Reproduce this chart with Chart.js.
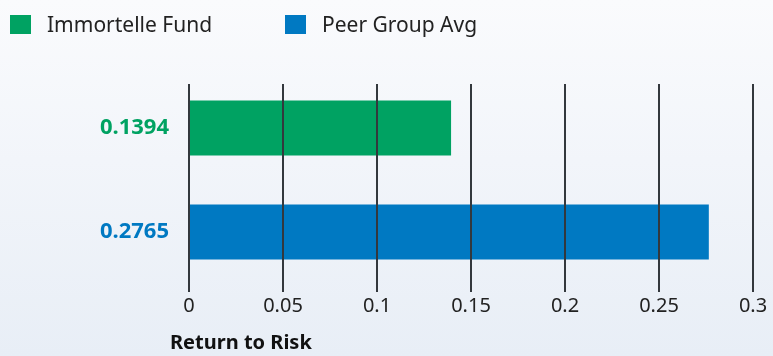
<!DOCTYPE html>
<html>
<head>
<meta charset="utf-8">
<script src="https://cdn.jsdelivr.net/npm/chart.js@4/dist/chart.umd.min.js"></script>
<style>
  html, body { margin: 0; padding: 0; }
  body {
    width: 773px; height: 356px; overflow: hidden;
    background: linear-gradient(to bottom, #fafbfd 0%, #f2f5fa 45%, #e8eef6 100%);
    font-family: "Noto Sans", "Open Sans", sans-serif;
  }
  #wrap { position: relative; width: 773px; height: 356px; }
  #chart { position: absolute; left: 0; top: 0; }
  .legend-item { position: absolute; top: 9px; display: flex; align-items: center; }
  .legend-box { width: 21px; height: 19px; margin-right: 16px; }
  .legend-text { font-size: 21px; color: #222; line-height: 30px; }
  #axisTitle {
    position: absolute; left: 170px; top: 329px;
    font-size: 20px; font-weight: bold; color: #111; line-height: 26px;
  }
</style>
</head>
<body>
<div id="wrap">
  <canvas id="chart" width="773" height="356"></canvas>
  <div id="legend"></div>
  <div id="axisTitle"></div>
</div>
<script>
// Return-to-risk comparison
const categories = ['Immortelle Fund', 'Peer Group Avg'];
const returnToRisk = [0.1394, 0.2765];
const barColors = ['#00a262', '#0079c2'];
const xTickValues = [0, 0.05, 0.1, 0.15, 0.2, 0.25, 0.3];
const xAxisTitle = 'Return to Risk';

// legend built from the categories
const legendLeft = [10, 285];
const legendEl = document.getElementById('legend');
categories.forEach((name, i) => {
  const item = document.createElement('div');
  item.className = 'legend-item';
  item.style.left = legendLeft[i] + 'px';
  const box = document.createElement('div');
  box.className = 'legend-box';
  box.style.background = barColors[i];
  const txt = document.createElement('span');
  txt.className = 'legend-text';
  txt.textContent = name;
  item.appendChild(box);
  item.appendChild(txt);
  legendEl.appendChild(item);
});
document.getElementById('axisTitle').textContent = xAxisTitle;

// vertical grid lines drawn over the bars, shifted slightly downward
const gridOverlay = {
  id: 'gridOverlay',
  afterDatasetsDraw(chart) {
    const { ctx, chartArea, scales } = chart;
    const x = scales.x;
    ctx.save();
    ctx.strokeStyle = '#33383d';
    ctx.lineWidth = 2;
    xTickValues.forEach(v => {
      const px = Math.round(x.getPixelForValue(v));
      ctx.beginPath();
      ctx.moveTo(px, chartArea.top + 8);
      ctx.lineTo(px, chartArea.bottom + 8);
      ctx.stroke();
    });
    ctx.restore();
  }
};

new Chart(document.getElementById('chart'), {
  type: 'bar',
  data: {
    labels: categories,
    datasets: [{
      data: returnToRisk,
      backgroundColor: barColors,
      borderWidth: 0,
      barPercentage: 0.53,
      categoryPercentage: 1
    }]
  },
  options: {
    indexAxis: 'y',
    responsive: false,
    animation: false,
    events: [],
    layout: { padding: { top: 76, right: 20, bottom: 38, left: 0 } },
    plugins: { legend: { display: false }, tooltip: { enabled: false } },
    scales: {
      x: {
        type: 'linear',
        min: 0,
        max: 0.3,
        afterBuildTicks(scale) { scale.ticks = xTickValues.map(v => ({ value: v })); },
        afterFit(scale) {
          scale.height = 34;
          scale.paddingLeft = 0;
          scale.paddingRight = 0;
        },
        grid: { display: false, drawTicks: false },
        border: { display: false },
        ticks: {
          padding: 10,
          color: '#222',
          font: { family: '"Noto Sans", sans-serif', size: 20 },
          maxRotation: 0,
          callback: v => String(Number(v.toFixed(2)))
        }
      },
      y: {
        grid: { display: false, drawTicks: false },
        border: { display: false },
        afterFit(scale) { scale.width = 189; },
        ticks: {
          padding: 20,
          color: ctx => barColors[ctx.index],
          font: { family: '"Noto Sans", sans-serif', size: 22, weight: 'bold' },
          callback: (v, i) => returnToRisk[i].toFixed(4)
        }
      }
    }
  },
  plugins: [gridOverlay]
});
</script>
</body>
</html>
